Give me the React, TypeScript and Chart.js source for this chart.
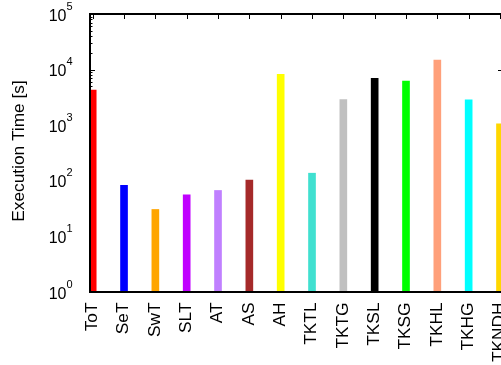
import React, { useEffect, useRef } from "react";
import { Chart, registerables } from "chart.js";

Chart.register(...registerables);

// ---- Data ----
const categories = ["ToT", "SeT", "SwT", "SLT", "AT", "AS", "AH", "TKTL", "TKTG", "TKSL", "TKSG", "TKHL", "TKHG", "TKNDH"];
const executionTimes = [4300, 83, 30.5, 56, 67, 103, 8200, 137, 2900, 7000, 6200, 14900, 2870, 1060];
const barColors = [
  "#ff0000", "#0000ff", "#ffa500", "#c000ff", "#c080ff", "#a52a2a", "#ffff00",
  "#40e0d0", "#c0c0c0", "#000000", "#00ff00", "#ffa07a", "#00ffff", "#ffd700",
];
const yExponents = [0, 1, 2, 3, 4, 5];
const yTitle = "Execution Time [s]";

const CANVAS_W = 530;
const CANVAS_H = 365;
const FONT = "'Liberation Sans', Arial, sans-serif";
const TEXT_STRETCH = 1.08;

// ticks are drawn beneath the bars (bars cover them, as in the reference)
const ticksPlugin = {
  id: "innerTicks",
  beforeDatasetsDraw(chart: any) {
    const { ctx, chartArea } = chart;
    const { left, right, top } = chartArea;
    const ys = chart.scales.y;
    const xs = chart.scales.x;
    ctx.save();
    ctx.strokeStyle = "#000";
    ctx.lineWidth = 1;
    const line = (x1: number, y1: number, x2: number, y2: number) => {
      ctx.beginPath();
      ctx.moveTo(x1, y1);
      ctx.lineTo(x2, y2);
      ctx.stroke();
    };
    const maxV = Math.pow(10, yExponents[yExponents.length - 1]);
    for (const e of yExponents) {
      for (let m = 1; m <= 9; m++) {
        const v = m * Math.pow(10, e);
        if (v > maxV) break;
        const py = Math.round(ys.getPixelForValue(v)) + 0.5;
        const len = m === 1 ? 5 : 2.5;
        line(left, py, left + len, py);
        if (m === 1) line(right, py, right - len, py);
      }
    }
    categories.forEach((_, i) => {
      const px = Math.round(xs.getPixelForValue(i)) + 0.5;
      line(px, top, px, top + 5);
    });
    ctx.restore();
  },
};

const framePlugin = {
  id: "frameAndText",
  afterDatasetsDraw(chart: any) {
    const { ctx, chartArea } = chart;
    const { left, right, top, bottom } = chartArea;
    const ys = chart.scales.y;
    const xs = chart.scales.x;
    ctx.save();
    ctx.strokeStyle = "#000";
    ctx.lineWidth = 2;
    ctx.strokeRect(left, top, right - left, bottom - top);

    ctx.fillStyle = "#000";
    // y tick labels 10^n
    for (const e of yExponents) {
      const py = ys.getPixelForValue(Math.pow(10, e));
      ctx.font = `16px ${FONT}`;
      ctx.textAlign = "right";
      ctx.textBaseline = "alphabetic";
      ctx.fillText("10", 66.5, py + 6.5);
      ctx.font = `11px ${FONT}`;
      ctx.textAlign = "left";
      ctx.fillText(String(e), 66.5, py - 4.5);
    }

    // x tick labels, rotated
    ctx.font = `16px ${FONT}`;
    ctx.textAlign = "right";
    ctx.textBaseline = "middle";
    categories.forEach((label, i) => {
      const px = xs.getPixelForValue(i);
      ctx.save();
      ctx.translate(px, bottom + 10.5);
      ctx.rotate(-Math.PI / 2);
      ctx.scale(TEXT_STRETCH, 1);
      ctx.fillText(label, 0, 0);
      ctx.restore();
    });

    // y axis title
    ctx.save();
    ctx.textAlign = "center";
    ctx.textBaseline = "middle";
    ctx.translate(19.5, (top + bottom) / 2 - 2);
    ctx.rotate(-Math.PI / 2);
    ctx.scale(TEXT_STRETCH, 1);
    ctx.fillText(yTitle, 0, 0);
    ctx.restore();

    ctx.restore();
  },
};

export default function App() {
  const ref = useRef<HTMLCanvasElement>(null);

  useEffect(() => {
    const canvas = ref.current;
    if (!canvas) return;
    const chart = new Chart(canvas, {
      type: "bar",
      data: {
        labels: categories,
        datasets: [
          {
            data: executionTimes.map((v, i) => ({ x: i, y: v })),
            backgroundColor: barColors,
            borderWidth: 0,
            barThickness: 7,
          },
        ],
      },
      options: {
        animation: false,
        responsive: false,
        devicePixelRatio: 1,
        layout: { padding: { top: 14, right: 27, left: 0, bottom: 0 } },
        plugins: {
          legend: { display: false },
          tooltip: { enabled: false },
        },
        scales: {
          x: {
            type: "linear",
            offset: false,
            min: -0.086,
            max: 13.096,
            grid: { display: false, drawTicks: false },
            border: { display: false },
            afterBuildTicks: (scale: any) => {
              scale.ticks = categories.map((_, i) => ({ value: i }));
            },
            afterFit: (scale: any) => {
              scale.height = CANVAS_H - 292;
              scale.paddingLeft = 0;
              scale.paddingRight = 0;
            },
            ticks: { display: false },
          },
          y: {
            type: "logarithmic",
            min: 1,
            max: 1e5,
            grid: { display: false, drawTicks: false },
            border: { display: false },
            afterBuildTicks: (scale: any) => {
              scale.ticks = yExponents.map((e) => ({ value: Math.pow(10, e) }));
            },
            afterFit: (scale: any) => {
              scale.width = 90;
              scale.paddingTop = 0;
              scale.paddingBottom = 0;
            },
            ticks: { display: false },
          },
        },
      },
      plugins: [ticksPlugin, framePlugin],
    } as any);
    return () => chart.destroy();
  }, []);

  return (
    <div
      style={{
        position: "fixed",
        left: 0,
        top: 0,
        width: 501,
        height: CANVAS_H,
        overflow: "hidden",
        background: "#fff",
      }}
    >
      <canvas
        ref={ref}
        width={CANVAS_W}
        height={CANVAS_H}
        style={{ display: "block", width: CANVAS_W, height: CANVAS_H }}
      />
    </div>
  );
}
